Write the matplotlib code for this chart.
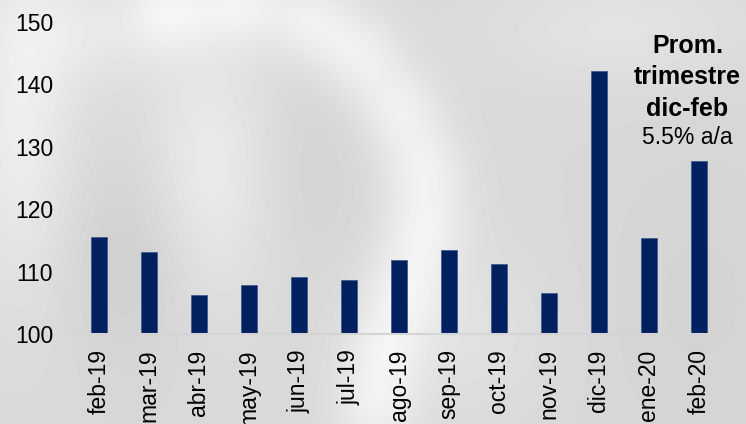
import numpy as np
import matplotlib

matplotlib.use('Agg')
import matplotlib.pyplot as plt

meses = ['feb-19', 'mar-19', 'abr-19', 'may-19', 'jun-19', 'jul-19', 'ago-19',
         'sep-19', 'oct-19', 'nov-19', 'dic-19', 'ene-20', 'feb-20']
indice = [115.5, 113.1, 106.3, 107.9, 109.1, 108.7, 111.9,
          113.5, 111.2, 106.6, 142.1, 115.4, 127.8]
nota_titulo = ['Prom.', 'trimestre', 'dic-feb']
nota_valor = '5.5% a/a'

plt.rcParams['font.family'] = ['Liberation Sans', 'DejaVu Sans']

fig = plt.figure(figsize=(7.46, 4.24), dpi=100)

# fondo gris jaspeado (manchas suaves sobre gris medio)
bg = fig.add_axes([0, 0, 1, 1], zorder=0)
yy, xx = np.mgrid[0:424, 0:746]
fondo = np.full(xx.shape, 0.85)
franja = [(170, 10), (240, 5), (310, 20), (360, 55), (400, 110), (425, 170),
          (425, 230), (405, 290), (385, 350), (375, 410)]
manchas = [(cx, cy, 30, 30, 0.08) for cx, cy in franja]
manchas += [(20, 120, 40, 120, 0.08), (210, 170, 45, 90, 0.07),
            (130, 260, 45, 70, -0.04), (310, 170, 40, 70, -0.02),
            (620, 30, 90, 40, 0.04), (700, 300, 80, 120, -0.02),
            (90, 30, 60, 40, 0.05), (470, 330, 60, 60, 0.03)]
for cx, cy, sx, sy, a in manchas:
    fondo += a * np.exp(-((xx - cx) ** 2 / (2 * sx ** 2) + (yy - cy) ** 2 / (2 * sy ** 2)))
bg.imshow(np.clip(fondo, 0, 1), cmap='gray', vmin=0, vmax=1, aspect='auto')
bg.axis('off')

ax = fig.add_axes([74 / 746, 90 / 424, 650 / 746, 312 / 424], zorder=1)
ax.patch.set_alpha(0)
x = np.arange(len(meses))
ax.bar(x, [v - 100 for v in indice], bottom=100, width=0.32, color='#002060',
       edgecolor='#3a5588', linewidth=0.5)

ax.set_ylim(100, 150)
ax.set_xlim(-0.5, len(meses) - 0.5)
ax.set_yticks(range(100, 151, 10))
ax.set_xticks(x)
ax.set_xticklabels(meses, rotation=90, va='top', ha='center')
ax.tick_params(axis='both', length=0, labelsize=16.5, colors='black')
ax.tick_params(axis='y', pad=15)
ax.tick_params(axis='x', pad=11)
for lado in ['top', 'right', 'left']:
    ax.spines[lado].set_visible(False)
ax.spines['bottom'].set_color('#d4d4d4')
ax.spines['bottom'].set_linewidth(1.5)

# nota del promedio trimestral, una linea por texto
for linea, yb in zip(nota_titulo, [145.0, 140.05, 134.95]):
    ax.text(11.77, yb, linea, ha='center', va='baseline', fontsize=18,
            fontweight='bold')
ax.text(11.77, 130.45, nota_valor, ha='center', va='baseline', fontsize=16.5)

fig.savefig('out.png', dpi=100)
